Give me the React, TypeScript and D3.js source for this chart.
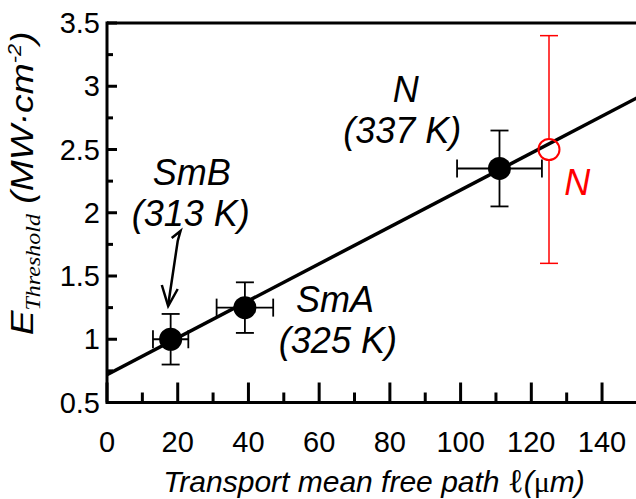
import React from 'react';
import * as d3 from 'd3';

const xTicks = [0, 20, 40, 60, 80, 100, 120, 140];
const xMinorTicks = [10, 30, 50, 70, 90, 110, 130];
const yTicks = [0.5, 1, 1.5, 2, 2.5, 3, 3.5];
const yMinorTicks = [0.75, 1.25, 1.75, 2.25, 2.75, 3.25];

const phases = ['SmB', 'SmA', 'N'];
const pathLength = [18, 39, 111];
const threshold = [1.0, 1.25, 2.35];
const pathErr = [5, 8, 12];
const thresholdErr = [0.2, 0.2, 0.3];

const redX = [125];
const redY = [2.5];
const redErr = [0.9];

const fitX = [0, 150];
const fitY = [0.72, 2.91];

const W = 636;
const H = 499;

export default function App() {
  const x = d3.scaleLinear().domain([0, 150]).range([107, 637.4]);
  const y = d3.scaleLinear().domain([0.5, 3.5]).range([402.5, 23]);
  const line = d3
    .line<number>()
    .x((d) => x(fitX[d]))
    .y((d) => y(fitY[d]));
  const sans = 'Liberation Sans, Arial, sans-serif';
  const serif = 'Liberation Serif, Times New Roman, serif';
  const cap = 9;

  return (
    <svg
      width={W}
      height={H}
      style={{ position: 'absolute', left: 0, top: 0, background: '#fff' }}
      fontFamily={sans}
    >
      <rect width={W} height={H} fill="#fff" />
      <defs>
        <clipPath id="plot">
          <rect x={x(0)} y={y(3.5)} width={W - x(0)} height={y(0.5) - y(3.5)} />
        </clipPath>
      </defs>

      {/* fit line */}
      <path d={line([0, 1]) || ''} stroke="#000" strokeWidth={3.5} fill="none" clipPath="url(#plot)" />

      {/* black points with error bars */}
      {phases.map((p, i) => {
        const cx = x(pathLength[i]);
        const cy = y(threshold[i]);
        const x0 = x(pathLength[i] - pathErr[i]);
        const x1 = x(pathLength[i] + pathErr[i]);
        const y0 = y(threshold[i] - thresholdErr[i]);
        const y1 = y(threshold[i] + thresholdErr[i]);
        return (
          <g key={p} stroke="#000" strokeWidth={1.8}>
            <line x1={x0} x2={x1} y1={cy} y2={cy} />
            <line x1={x0} x2={x0} y1={cy - cap} y2={cy + cap} />
            <line x1={x1} x2={x1} y1={cy - cap} y2={cy + cap} />
            <line x1={cx} x2={cx} y1={y0} y2={y1} />
            <line x1={cx - cap} x2={cx + cap} y1={y0} y2={y0} />
            <line x1={cx - cap} x2={cx + cap} y1={y1} y2={y1} />
            <circle cx={cx} cy={cy} r={11.5} fill="#000" stroke="none" />
          </g>
        );
      })}

      {/* red point */}
      {redX.map((v, i) => {
        const cx = x(v);
        const cy = y(redY[i]);
        const y0 = y(redY[i] - redErr[i]);
        const y1 = y(redY[i] + redErr[i]);
        return (
          <g key={'r' + i} stroke="#ff0000" strokeWidth={1.5} fill="none">
            <line x1={cx} x2={cx} y1={y0} y2={cy + 11} />
            <line x1={cx} x2={cx} y1={cy - 11} y2={y1} />
            <line x1={cx - cap} x2={cx + cap} y1={y0} y2={y0} />
            <line x1={cx - cap} x2={cx + cap} y1={y1} y2={y1} />
            <circle cx={cx} cy={cy} r={10.5} fill="none" strokeWidth={2} />
          </g>
        );
      })}

      {/* axes */}
      <g stroke="#000" strokeWidth={3}>
        <line x1={x(0)} x2={W} y1={y(0.5)} y2={y(0.5)} />
        <line x1={x(0)} x2={W} y1={y(3.5)} y2={y(3.5)} />
        <line x1={x(0)} x2={x(0)} y1={y(0.5) + 1.5} y2={y(3.5) - 1.5} />
        {xTicks.map((t) => (
          <line key={'xt' + t} x1={x(t)} x2={x(t)} y1={y(0.5)} y2={y(0.5) - 20} />
        ))}
        {xMinorTicks.map((t) => (
          <line key={'xm' + t} x1={x(t)} x2={x(t)} y1={y(0.5)} y2={y(0.5) - 10} />
        ))}
        {yTicks.map((t) => (
          <line key={'yt' + t} x1={x(0)} x2={x(0) + 10} y1={y(t)} y2={y(t)} />
        ))}
        {yMinorTicks.map((t) => (
          <line key={'ym' + t} x1={x(0)} x2={x(0) + 6} y1={y(t)} y2={y(t)} />
        ))}
      </g>

      {/* tick labels */}
      <g fontSize={29} fill="#000">
        {xTicks.map((t) => (
          <text key={'xl' + t} x={x(t)} y={452} textAnchor="middle">
            {t}
          </text>
        ))}
        {yTicks.map((t) => (
          <text key={'yl' + t} x={100} y={y(t) + 10} textAnchor="end">
            {t}
          </text>
        ))}
      </g>

      {/* x axis title */}
      <text x={374} y={492} textAnchor="middle" fontSize={30} fill="#000">
        <tspan fontStyle="italic">Transport mean free path </tspan>
        <tspan fontFamily={serif} fontSize={33}>ℓ</tspan>
        <tspan fontStyle="italic">(</tspan>
        <tspan fontFamily={serif}>μ</tspan>
        <tspan fontStyle="italic">m)</tspan>
      </text>

      {/* y axis title */}
      <text
        transform="translate(33,183.5) rotate(-90) scale(1.2,1)"
        textAnchor="middle"
        fontSize={31}
        fill="#000"
        fontStyle="italic"
      >
        <tspan>E</tspan>
        <tspan fontFamily={serif} fontSize={20} dy={7}>Threshold</tspan>
        <tspan dy={-7}> (MW·cm</tspan>
        <tspan fontSize={18} dy={-12}>-2</tspan>
        <tspan dy={12}>)</tspan>
      </text>

      {/* annotations */}
      <g fontSize={36} fontStyle="italic" fill="#000" textAnchor="middle">
        <text x={x(84.5)} y={102}>N</text>
        <text x={x(83.5)} y={143}>(337 K)</text>
        <text x={x(24)} y={185}>SmB</text>
        <text x={x(23.7)} y={226}>(313 K)</text>
        <text x={x(64.5)} y={312}>SmA</text>
        <text x={x(65.3)} y={353}>(325 K)</text>
        <text x={x(133)} y={195} fill="#ff0000">N</text>
      </g>

      {/* arrow */}
      <g stroke="#000" strokeWidth={2.5} fill="none" strokeLinejoin="miter">
        <path d={`M${x(18.3)},238 L${x(20.8)},231 L${x(20)},241 L${x(17.3)},305`} />
        <path d={`M${x(15.5)},285 L${x(17.3)},306 L${x(20)},289`} />
      </g>
    </svg>
  );
}
